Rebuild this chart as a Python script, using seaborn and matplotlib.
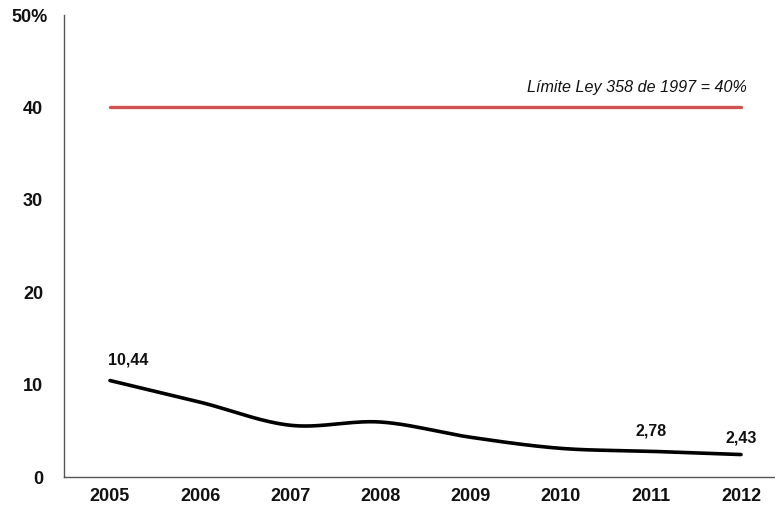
import numpy as np
import pandas as pd
import matplotlib
matplotlib.use("Agg")
import matplotlib.pyplot as plt
import matplotlib.transforms as mtrans
import seaborn as sns

years = ["2005", "2006", "2007", "2008", "2009", "2010", "2011", "2012"]
values = [10.44, 8.1, 5.6, 5.95, 4.3, 3.1, 2.78, 2.43]
limit = 40
labeled = {0: "10,44", 6: "2,78", 7: "2,43"}
y_ticks = [0, 10, 20, 30, 40, 50]
y_tick_labels = ["0", "10", "20", "30", "40", "50%"]
limit_text = "Límite Ley 358 de 1997 = 40%"

sns.set_theme(style="white")
plt.rcParams['font.family'] = ['Liberation Sans', 'DejaVu Sans']

fig = plt.figure(figsize=(7.75, 5.08), dpi=100)
ax = fig.add_axes([64/775, 31/508, (775-64)/775, (477-15)/508])

x = np.arange(len(years))
df = pd.DataFrame({"x": x, "v": values})

# Catmull-Rom smoothing (rendering of smooth line between data points)
def smooth(xs, ys, n=30):
    xs = np.asarray(xs, float); ys = np.asarray(ys, float)
    px = np.concatenate([[2*xs[0]-xs[1]], xs, [2*xs[-1]-xs[-2]]])
    py = np.concatenate([[2*ys[0]-ys[1]], ys, [2*ys[-1]-ys[-2]]])
    ox, oy = [], []
    for i in range(1, len(px)-2):
        t = np.linspace(0, 1, n, endpoint=(i == len(px)-3))
        for P, out in ((px, ox), (py, oy)):
            p0, p1, p2, p3 = P[i-1], P[i], P[i+1], P[i+2]
            out.extend(0.5*((2*p1) + (-p0+p2)*t + (2*p0-5*p1+4*p2-p3)*t**2 + (-p0+3*p1-3*p2+p3)*t**3))
    return np.array(ox), np.array(oy)

sx, sy = smooth(df["x"], df["v"])
sns.lineplot(x=sx, y=sy, ax=ax, color="black", linewidth=2.6, sort=False)
sns.lineplot(x=[x[0], x[-1]], y=[limit, limit], ax=ax, color="#D05252", linewidth=2.4)

ax.text(x[-1] + 0.06, limit + 1.3, limit_text, fontsize=11.6, style="italic",
        ha="right", va="bottom", color="#111111")
offsets = {0: 1.45, 6: 1.36, 7: 0.95}
aligns = {0: "left", 6: "center", 7: "center"}
for i, lab in labeled.items():
    ax.text(x[i] - (0.02 if i == 0 else 0), values[i] + offsets[i], lab,
            fontsize=11.5, fontweight="bold",
            ha=aligns[i], va="bottom", color="#111111")

ax.set_xlim(-0.51, 7.377)
ax.set_ylim(0, 50)
ax.set_xticks(x)
ax.set_xticklabels(years, fontsize=13, fontweight="bold", color="#111111")
ax.set_yticks(y_ticks)
ax.set_yticklabels(y_tick_labels, fontsize=13, fontweight="bold", color="#111111")
ax.tick_params(axis="x", length=0, pad=8)
ax.tick_params(axis="y", length=0, pad=15)
top_lab = ax.get_yticklabels()[-1]
top_lab.set_transform(top_lab.get_transform() + mtrans.ScaledTranslation(5/100, 0, fig.dpi_scale_trans))
for s in ["top", "right"]:
    ax.spines[s].set_visible(False)
for s in ["left", "bottom"]:
    ax.spines[s].set_color("#555555")
    ax.spines[s].set_linewidth(1.0)
ax.set_xlabel("")
ax.set_ylabel("")

fig.savefig("out.png", dpi=100)
